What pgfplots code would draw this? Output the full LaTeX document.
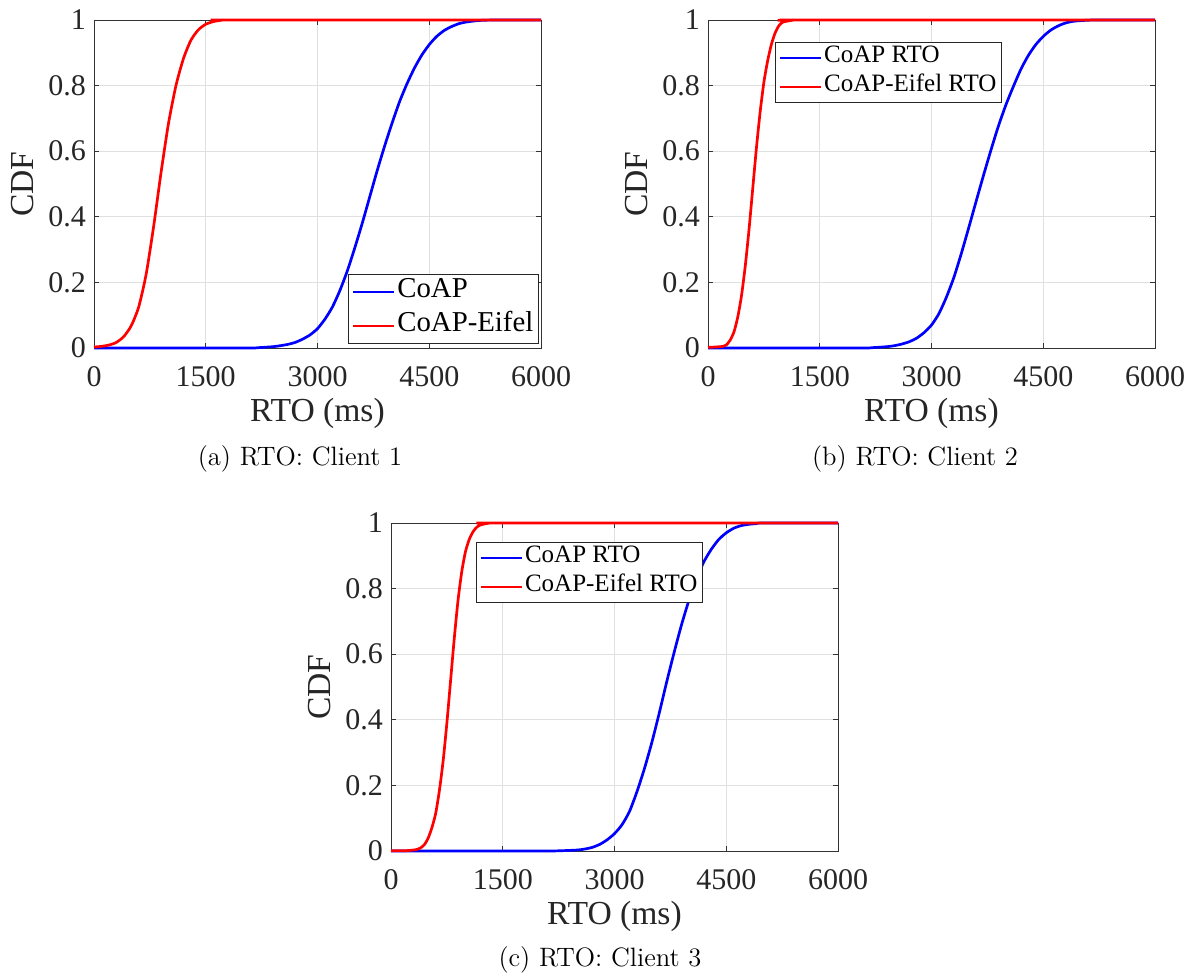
\documentclass[border=0pt]{standalone}
\usepackage{fontspec}
\usepackage{pgfplots}
\pgfplotsset{compat=1.18}
\newfontfamily\tnr{Liberation Serif}

\pgfplotstableread{
x y
0 0.003
100 0.005
200 0.009
300 0.017
400 0.035
500 0.068
600 0.125
700 0.225
800 0.37
900 0.535
1000 0.685
1100 0.80
1200 0.882
1300 0.938
1400 0.970
1500 0.987
1600 0.995
1700 0.999
1800 1
6000 1
}\redA
\pgfplotstableread{
x y
0 0
2000 0
2200 0.001
2400 0.004
2500 0.007
2600 0.011
2700 0.017
2800 0.027
2900 0.040
3000 0.059
3100 0.088
3200 0.125
3300 0.175
3400 0.235
3500 0.305
3600 0.38
3700 0.46
3800 0.54
3900 0.615
4000 0.685
4100 0.75
4200 0.805
4300 0.853
4400 0.893
4500 0.925
4600 0.95
4700 0.968
4800 0.98
4900 0.989
5000 0.994
5100 0.997
5200 0.999
5400 1
6000 1
}\blueA
\pgfplotstableread{
x y
0 0.002
100 0.003
150 0.004
200 0.005
250 0.01
300 0.025
350 0.05
400 0.095
450 0.16
500 0.25
550 0.36
600 0.485
650 0.61
700 0.72
750 0.81
800 0.875
850 0.925
900 0.96
950 0.982
1000 0.993
1100 0.998
1200 1
6000 1
}\redB
\pgfplotstableread{
x y
0 0
2000 0
2200 0.001
2400 0.004
2500 0.007
2600 0.012
2700 0.019
2800 0.03
2900 0.047
3000 0.07
3100 0.105
3200 0.155
3300 0.215
3400 0.288
3500 0.367
3600 0.448
3700 0.528
3800 0.605
3900 0.678
4000 0.742
4100 0.798
4200 0.85
4300 0.892
4400 0.925
4500 0.95
4600 0.969
4700 0.982
4800 0.991
4900 0.996
5000 0.998
5200 1
6000 1
}\blueB
\pgfplotstableread{
x y
0 0.001
200 0.001
300 0.003
350 0.005
400 0.01
450 0.02
500 0.04
550 0.072
600 0.115
650 0.185
700 0.275
750 0.39
800 0.52
850 0.65
900 0.765
950 0.852
1000 0.913
1050 0.95
1100 0.973
1150 0.987
1200 0.994
1300 0.999
1400 1
6000 1
}\redC
\pgfplotstableread{
x y
0 0
2000 0
2300 0.001
2500 0.003
2600 0.006
2700 0.011
2800 0.02
2900 0.034
3000 0.053
3100 0.08
3200 0.12
3300 0.18
3400 0.25
3500 0.33
3600 0.42
3700 0.515
3800 0.605
3900 0.69
4000 0.765
4100 0.83
4200 0.882
4300 0.92
4400 0.95
4500 0.97
4600 0.984
4700 0.992
4800 0.996
4900 0.998
5000 1
6000 1
}\blueC

\pgfplotsset{
  rtostyle/.style={
    width=223.5pt, height=164pt, scale only axis,
    xmin=0, xmax=6000, ymin=0, ymax=1,
    xtick={0,1500,3000,4500,6000},
    xticklabels={0,1500,3000,4500,6000},
    ytick={0,0.2,0.4,0.6,0.8,1},
    yticklabels={0,0.2,0.4,0.6,0.8,1},
    /pgf/number format/assume math mode=true,
    tick label style={font=\fontsize{15}{17}\tnr, text=black!85},
    xticklabel style={yshift=-5.5pt},
    yticklabel style={xshift=-0.5pt},
    label style={font=\fontsize{16.8}{20}\tnr, text=black!85},
    xlabel={RTO (ms)}, ylabel={CDF},
    xlabel style={at={(axis description cs:0.5,-0.198)}, anchor=center},
    ylabel style={at={(axis description cs:-0.159,0.5)}, anchor=center},
    axis line style={black!80, line width=0.4pt},
    tick style={black!80, line width=0.4pt},
    major tick length=2.5pt,
    grid=major,
    major grid style={black!12, line width=0.4pt},
    clip=false,
    every axis plot/.append style={line width=1.35pt, smooth, tension=0.4},
    legend image code/.code={\draw[#1] (0pt,0pt) -- (20.5pt,0pt);},
    legend cell align=left,
  },
  legA/.style={
    legend style={at={(0.995,0.012)}, anchor=south east,
      font=\fontsize{14.4}{16}\tnr, draw=black!85, line width=0.4pt, fill=white,
      inner xsep=1.5pt, inner ysep=0.3pt,
      nodes={inner xsep=1pt, inner ysep=0pt, text height=11pt, text depth=6pt}},
  },
  legB/.style={
    legend style={at={#1}, anchor=north west,
      font=\fontsize{12.5}{14}\tnr, draw=black!85, line width=0.4pt, fill=white,
      inner xsep=1.5pt, inner ysep=0.5pt,
      nodes={inner xsep=1pt, inner ysep=0pt, text height=9.5pt, text depth=5pt}},
  },
}

\begin{document}
\begin{tikzpicture}
\path[use as bounding box] (0pt,0pt) rectangle (597.5pt,-488pt);

\begin{axis}[rtostyle, legA, at={(47pt,-174pt)}, anchor=south west]
\addplot[blue] table[x=x,y=y] {\blueA};
\addlegendentry{CoAP}
\addplot[red] table[x=x,y=y] {\redA};
\addlegendentry{CoAP-Eifel}
\end{axis}
\node[font=\fontsize{13.3}{16}\selectfont] at (150pt,-229.5pt) {(a) RTO: Client 1};

\begin{axis}[rtostyle, legB={(0.150,0.933)}, at={(354pt,-174pt)}, anchor=south west]
\addplot[blue] table[x=x,y=y] {\blueB};
\addlegendentry{CoAP RTO}
\addplot[red] table[x=x,y=y] {\redB};
\addlegendentry{CoAP-Eifel RTO}
\end{axis}
\node[font=\fontsize{13.3}{16}\selectfont] at (457.5pt,-229.5pt) {(b) RTO: Client 2};

\begin{axis}[rtostyle, legB={(0.190,0.942)}, at={(195.5pt,-425.5pt)}, anchor=south west]
\addplot[blue] table[x=x,y=y] {\blueC};
\addlegendentry{CoAP RTO}
\addplot[red] table[x=x,y=y] {\redC};
\addlegendentry{CoAP-Eifel RTO}
\end{axis}
\node[font=\fontsize{13.3}{16}\selectfont] at (300pt,-480pt) {(c) RTO: Client 3};
\end{tikzpicture}
\end{document}
